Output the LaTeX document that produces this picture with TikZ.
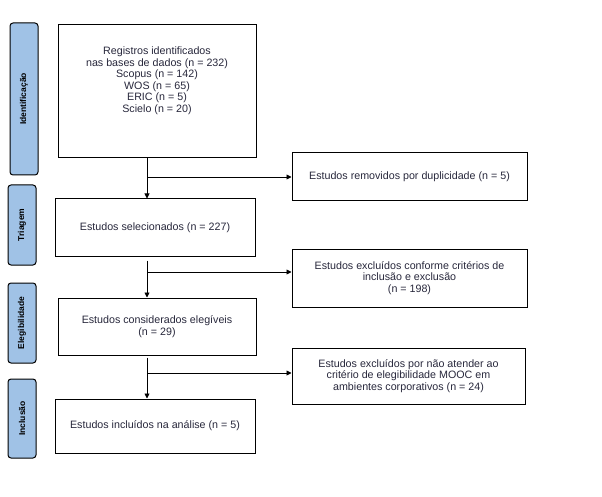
\documentclass[tikz,border=0pt]{standalone}
\usepackage{fontspec}
\setmainfont{Liberation Sans}
\usetikzlibrary{arrows.meta,calc}
\definecolor{sidefill}{RGB}{160,194,230}
\definecolor{txt}{RGB}{40,40,60}
\begin{document}
\begin{tikzpicture}[x=1pt,y=-1pt,
  side/.style={draw,line width=1pt,rounded corners=3pt,fill=sidefill,inner sep=0pt},
  sidetxt/.style={rotate=90,font=\fontsize{8.5}{10}\selectfont\bfseries,text=black},
  boxtxt/.style={inner sep=0pt,align=center,text=txt,font=\fontsize{10.7}{11.5}\selectfont},
  box/.style={boxtxt,draw,line width=1pt},
  arr/.style={line width=0.9pt,-{Triangle[length=5pt,width=5pt]}},
  ln/.style={line width=0.9pt}]
\useasboundingbox[fill=white] (0,0) rectangle (602,497);
% side labels
\node[side,minimum width=28pt,minimum height=152pt] (s1) at (24,99) {};
\node[sidetxt] at (s1.center) {Identificação};
\node[side,minimum width=28pt,minimum height=80pt] (s2) at (22,225) {};
\node[sidetxt] at (s2.center) {Triagem};
\node[side,minimum width=28pt,minimum height=80pt] (s3) at (22,323) {};
\node[sidetxt] at (s3.center) {Elegibilidade};
\node[side,minimum width=28pt,minimum height=79pt] (s4) at (22,418.5) {};
\node[sidetxt] at (s4.center) {Inclusão};
% main boxes
\node[box,minimum width=198pt,minimum height=133pt] (b1) at (157,91.5) {};
\node[boxtxt] (b1t) at (157,80.5) {Registros identificados\\nas bases de dados (n = 232)\\Scopus (n = 142)\\WOS (n = 65)\\ERIC (n = 5)\\Scielo (n = 20)};
\node[box,minimum width=200pt,minimum height=57pt] (b2) at (155,227.5) {Estudos selecionados (n = 227)};
\node[box,minimum width=198pt,minimum height=57pt] (b3) at (157,326.5) {Estudos considerados elegíveis\\(n = 29)};
\node[box,minimum width=200pt,minimum height=54pt] (b4) at (155,426) {Estudos incluídos na análise (n = 5)};
% right boxes
\node[box,minimum width=235pt,minimum height=48pt] (r1) at (409.5,177) {Estudos removidos por duplicidade (n = 5)};
\node[box,minimum width=235pt,minimum height=58pt] (r2) at (409.5,278) {Estudos excluídos conforme critérios de\\inclusão e exclusão\\(n = 198)};
\node[box,minimum width=233pt,minimum height=56pt] (r3) at (408.5,376) {Estudos excluídos por não atender ao\\critério de elegibilidade MOOC em\\ambientes corporativos (n = 24)};
% connectors
\coordinate (j1) at (147,177);
\coordinate (j2) at (147,272);
\coordinate (j3) at (147,373);
\draw[arr] (j1 |- b1.south) -- (j1 |- b2.north);
\draw[arr] (j1) -- (r1.west);
\draw[arr] ($(j2 |- b2.south)+(0,4)$) -- (j2 |- b3.north);
\draw[arr] (j2) -- (r2.west |- j2);
\draw[arr] ($(j3 |- b3.south)+(0,2)$) -- (j3 |- b4.north);
\draw[arr] (j3) -- (r3.west |- j3);
\end{tikzpicture}
\end{document}
